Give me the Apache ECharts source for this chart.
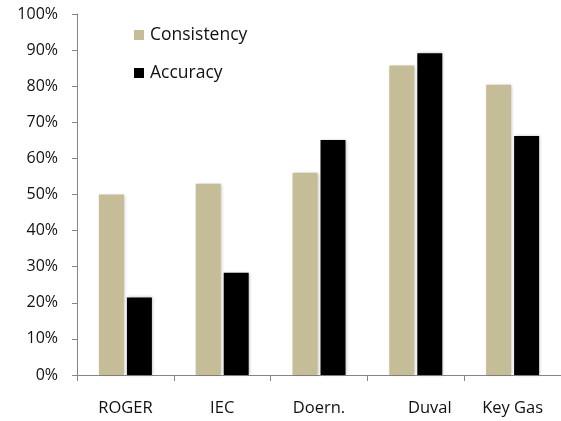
<!DOCTYPE html>
<html>
<head>
<meta charset="utf-8">
<script src="https://cdn.jsdelivr.net/npm/echarts@6/dist/echarts.min.js"></script>
<style>
  html, body { margin: 0; padding: 0; background: #fff; }
  #chart { width: 561px; height: 421px; }
</style>
</head>
<body>
<div id="chart"></div>
<script>
// Diagnostic methods compared by consistency and accuracy (percent)
const methods = ['ROGER', 'IEC', 'Doern.', 'Duval', 'Key Gas'];
const consistency = [50, 53, 56, 85.7, 80.4];
const accuracy = [21.5, 28.3, 65.1, 89.1, 66.2];
const seriesNames = ['Consistency', 'Accuracy'];

const font = 'Open Sans, Noto Sans, sans-serif';
const axisGray = '#868686';
const textColor = '#111';

const chart = echarts.init(document.getElementById('chart'), null, { renderer: 'canvas' });

const barShadow = { shadowBlur: 3, shadowColor: 'rgba(0,0,0,0.25)', shadowOffsetX: 1, shadowOffsetY: 0 };

chart.setOption({
  animation: false,
  backgroundColor: '#ffffff',
  grid: { left: 77, top: 14, width: 487, height: 361, containLabel: false },
  legend: {
    orient: 'vertical',
    left: 129,
    top: 21,
    itemWidth: 10,
    itemHeight: 10,
    itemGap: 20,
    icon: 'rect',
    textStyle: { fontFamily: font, fontSize: 17.5, color: textColor, padding: [0, 0, 0, 1] },
    data: seriesNames
  },
  xAxis: {
    type: 'category',
    data: methods,
    axisLine: { lineStyle: { color: axisGray, width: 1 } },
    axisTick: { show: true, interval: 0, length: 6, lineStyle: { color: axisGray } },
    axisLabel: {
      interval: 0,
      hideOverlap: false,
      margin: 25,
      fontFamily: font,
      fontSize: 16.5,
      color: textColor,
      formatter: function (v) { return v === 'Duval' ? '{d|' + v + '}' : v; },
      rich: { d: { padding: [0, 0, 0, 28], fontFamily: font, fontSize: 16.5, color: textColor } }
    }
  },
  yAxis: {
    type: 'value',
    min: 0,
    max: 100,
    interval: 10,
    axisLine: { show: true, lineStyle: { color: axisGray, width: 1 } },
    axisTick: { show: true, length: 5, lineStyle: { color: axisGray } },
    splitLine: { show: false },
    axisLabel: {
      margin: 19,
      fontFamily: font,
      fontSize: 16,
      color: textColor,
      formatter: '{value}%'
    }
  },
  series: [
    {
      name: seriesNames[0],
      type: 'bar',
      data: consistency,
      barWidth: 25,
      barGap: '12%',
      itemStyle: Object.assign({ color: '#C4BD97' }, barShadow)
    },
    {
      name: seriesNames[1],
      type: 'bar',
      data: accuracy,
      barWidth: 25,
      barGap: '12%',
      itemStyle: Object.assign({ color: '#000000' }, barShadow)
    }
  ]
});
</script>
</body>
</html>
